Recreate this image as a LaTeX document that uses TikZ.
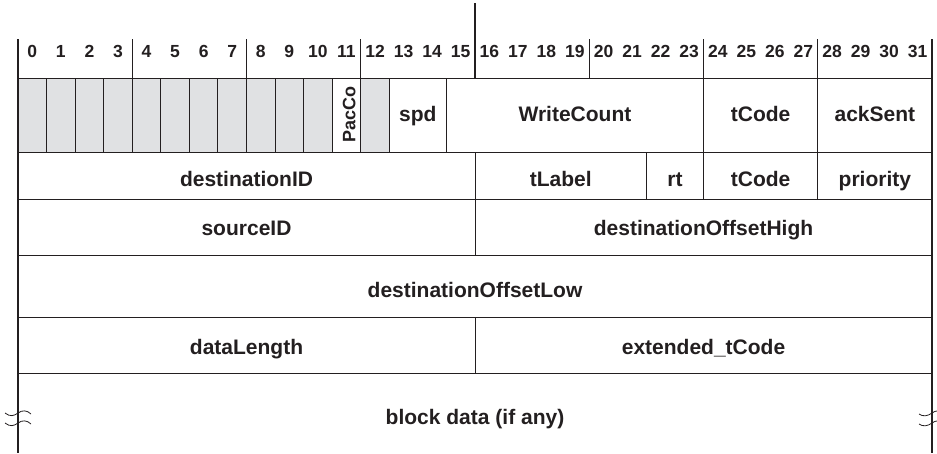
\documentclass[tikz,border=0pt]{standalone}
\usepackage{fontspec}
\setmainfont{Liberation Sans}
\definecolor{cellgray}{RGB}{224,225,227}
\definecolor{ink}{RGB}{35,31,32}
\begin{document}
\begin{tikzpicture}[x=1pt,y=-1pt,
  gridline/.style={line width=0.9pt,draw=ink},
  outerline/.style={line width=2.4pt,draw=ink},
  fieldtext/.style={font=\bfseries\fontsize{21}{24}\selectfont,text=ink,inner sep=0pt,anchor=base},
  bitnum/.style={font=\bfseries\fontsize{17.5}{20}\selectfont,text=ink,inner sep=0pt,anchor=base},
  breakmark/.style={line width=0.8pt,draw=ink}]
\useasboundingbox (0,0) rectangle (937,453);
\def\B{28.5625}
% gray cells
\foreach \i in {0,...,10,12}
  \fill[cellgray] ({18+\i*\B},78) rectangle ({18+(\i+1)*\B},152);
% header bit numbers
\foreach \i in {0,...,31}
  \node[bitnum] (h\i) at ({18+(\i+0.5)*\B},57) {\i};
% horizontal lines
\foreach \y in {78,152,199,255.5,317,373}
  \draw[gridline] (18,\y) -- (932,\y);
% header ticks
\foreach \i in {4,8,12,20,24,28}
  \draw[gridline] ({18+\i*\B},39) -- ({18+\i*\B},78);
\draw[outerline] ({18+16*\B},3) -- ({18+16*\B},78);
% row 1 dividers
\foreach \i in {1,...,13,15,24,28}
  \draw[gridline] ({18+\i*\B},78) -- ({18+\i*\B},152);
% row 2 dividers
\foreach \i in {16,22,24,28}
  \draw[gridline] ({18+\i*\B},152) -- ({18+\i*\B},199);
% row 3 and row 5 dividers
\draw[gridline] ({18+16*\B},199) -- ({18+16*\B},255.5);
\draw[gridline] ({18+16*\B},317) -- ({18+16*\B},373);
% outer borders
\draw[outerline] (18,39) -- (18,453);
\draw[outerline] (932,39) -- (932,453);
% row 1 fields
\node[fieldtext,font=\bfseries\fontsize{18}{20}\selectfont,rotate=90] (pacco) at ({18+11.5*\B+9},114.5) {PacCo};
\node[fieldtext] (spd) at ({18+14*\B},121) {spd};
\node[fieldtext] (writecount) at ({18+19.5*\B},121) {WriteCount};
\node[fieldtext] (tcode1) at ({18+26*\B},121) {tCode};
\node[fieldtext] (acksent) at ({18+30*\B},121) {ackSent};
% row 2 fields
\node[fieldtext] (destid) at ({18+8*\B},186.5) {destinationID};
\node[fieldtext] (tlabel) at ({18+19*\B},186.5) {tLabel};
\node[fieldtext] (rt) at ({18+23*\B},186.5) {rt};
\node[fieldtext] (tcode2) at ({18+26*\B},186.5) {tCode};
\node[fieldtext] (priority) at ({18+30*\B},186.5) {priority};
% row 3 fields
\node[fieldtext] (srcid) at ({18+8*\B},235) {sourceID};
\node[fieldtext] (dohigh) at ({18+24*\B},235) {destinationOffsetHigh};
% row 4
\node[fieldtext] (dolow) at ({18+16*\B},297) {destinationOffsetLow};
% row 5
\node[fieldtext] (dlen) at ({18+8*\B},354) {dataLength};
\node[fieldtext] (exttcode) at ({18+24*\B},354) {extended\_tCode};
% row 6
\node[fieldtext] (block) at ({18+16*\B},424) {block data (if any)};
% break marks
\foreach \d in {0,10} {
  \draw[breakmark] (5,413+\d) .. controls (10,417+\d) and (14,416+\d) .. (18,413+\d)
     .. controls (22,410+\d) and (27,410+\d) .. (31,414+\d);
  \draw[breakmark] (919,414+\d) .. controls (923,417+\d) and (928,416+\d) .. (932,413+\d)
     .. controls (934,411.5+\d) and (936,411+\d) .. (937,411+\d);
}
\end{tikzpicture}
\end{document}
